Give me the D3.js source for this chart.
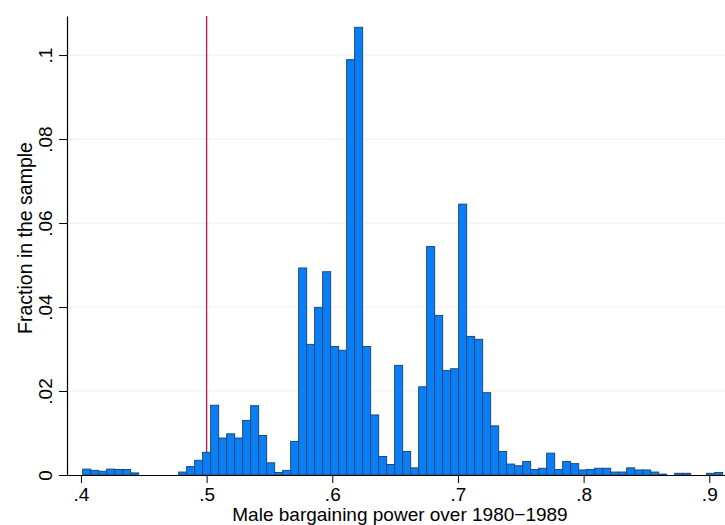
<!DOCTYPE html>
<html>
<head>
<style>
  body { margin: 0; background: #fff; }
  text { font-family: "Liberation Sans", Arial, sans-serif; fill: #000; }
</style>
</head>
<body>
<script src="https://cdn.jsdelivr.net/npm/d3@7"></script>
<script>

const width = 725;
const height = 525;
const margin = {top: 16, right: 0, bottom: 50, left: 67};

// histogram: 80 bins, first bin starts at binStart
const binStart = 0.40135;
const binWidth = 0.006366;
const fractions = [
  0.0014, 0.0011, 0.0009, 0.0014, 0.0013, 0.0013, 0.0005, 0, 0, 0, 0, 0,
  0.0007, 0.0020, 0.0035, 0.0054, 0.0166, 0.0088, 0.0098, 0.0088, 0.0130,
  0.0165, 0.0094, 0.0029, 0.0006, 0.0011, 0.0080, 0.0493, 0.0311, 0.0399, 0.0484,
  0.0306, 0.0297, 0.0989, 0.1066, 0.0306, 0.0143, 0.0044, 0.0025, 0.0261, 0.0056,
  0.0017, 0.0210, 0.0544, 0.0380, 0.0249, 0.0253, 0.0645, 0.0330, 0.0323, 0.0196,
  0.0117, 0.0056, 0.0026, 0.0022, 0.0032, 0.0013, 0.0016, 0.0052, 0.0013, 0.0032,
  0.0027, 0.0012, 0.0013, 0.0016, 0.0016, 0.0007, 0.0007, 0.0017, 0.0012, 0.0012,
  0.0007, 0.0002, 0, 0.0004, 0.0004, 0, 0, 0.0004, 0.0006
];

const xTicks = [0.4, 0.5, 0.6, 0.7, 0.8, 0.9];
const xTickLabels = ['.4', '.5', '.6', '.7', '.8', '.9'];
const yTicks = [0, 0.02, 0.04, 0.06, 0.08, 0.1];
const yTickLabels = ['0', '.02', '.04', '.06', '.08', '.1'];
const refLine = 0.5;

const x = d3.scaleLinear()
  .domain([0.3889, 0.9125])
  .range([margin.left, width - margin.right]);

const y = d3.scaleLinear()
  .domain([0, 0.1093])
  .range([height - margin.bottom, margin.top]);

const svg = d3.select('body')
  .append('svg')
  .attr('width', width)
  .attr('height', height);

// grid
svg.append('g')
  .selectAll('line')
  .data(yTicks.slice(1))
  .enter()
  .append('line')
  .attr('x1', margin.left)
  .attr('x2', width - margin.right)
  .attr('y1', d => y(d))
  .attr('y2', d => y(d))
  .attr('stroke', '#eaf2f3')
  .attr('stroke-width', 1.2);

// reference line at .5
svg.append('line')
  .attr('x1', x(refLine))
  .attr('x2', x(refLine))
  .attr('y1', margin.top)
  .attr('y2', y(0))
  .attr('stroke', '#d4143c')
  .attr('stroke-width', 1.3);

const bins = fractions.map((v, i) => ({x0: binStart + i * binWidth, v: v}))
  .filter(d => d.v > 0);

svg.append('g')
  .selectAll('rect')
  .data(bins)
  .enter()
  .append('rect')
  .attr('x', d => x(d.x0))
  .attr('width', d => x(d.x0 + binWidth) - x(d.x0))
  .attr('y', d => y(d.v))
  .attr('height', d => y(0) - y(d.v))
  .attr('fill', '#0a7ff5')
  .attr('stroke', '#1c4a78')
  .attr('stroke-width', 1);

// x axis
const xAxis = d3.axisBottom(x)
  .tickValues(xTicks)
  .tickFormat((d, i) => xTickLabels[i])
  .tickSizeInner(8)
  .tickSizeOuter(0);

const gx = svg.append('g')
  .attr('transform', `translate(0,${y(0)})`)
  .call(xAxis);
gx.select('.domain').attr('stroke', '#000').attr('stroke-width', 1.2);
gx.selectAll('.tick line').attr('stroke', '#000');
gx.selectAll('.tick text')
  .style('font-size', '19px')
  .attr('fill', '#000')
  .attr('y', 26)
  .attr('dy', null);

// y axis
const yAxis = d3.axisLeft(y)
  .tickValues(yTicks)
  .tickFormat((d, i) => yTickLabels[i])
  .tickSizeInner(8)
  .tickSizeOuter(0);

const gy = svg.append('g')
  .attr('transform', `translate(${margin.left},0)`)
  .call(yAxis);
gy.select('.domain').attr('stroke', '#000').attr('stroke-width', 1.2);
gy.selectAll('.tick line').attr('stroke', '#000');
gy.selectAll('.tick text')
  .style('font-size', '19px')
  .attr('fill', '#000')
  .attr('x', null)
  .attr('dy', null)
  .attr('text-anchor', 'middle')
  .attr('transform', 'translate(-15,0) rotate(-90)');

// titles
svg.append('text')
  .attr('x', 400)
  .attr('y', 521)
  .attr('text-anchor', 'middle')
  .style('font-size', '19px')
  .text('Male bargaining power over 1980\u22121989');

svg.append('text')
  .attr('transform', `translate(32,238) rotate(-90)`)
  .attr('text-anchor', 'middle')
  .style('font-size', '19.5px')
  .text('Fraction in the sample');

</script>
</body>
</html>
